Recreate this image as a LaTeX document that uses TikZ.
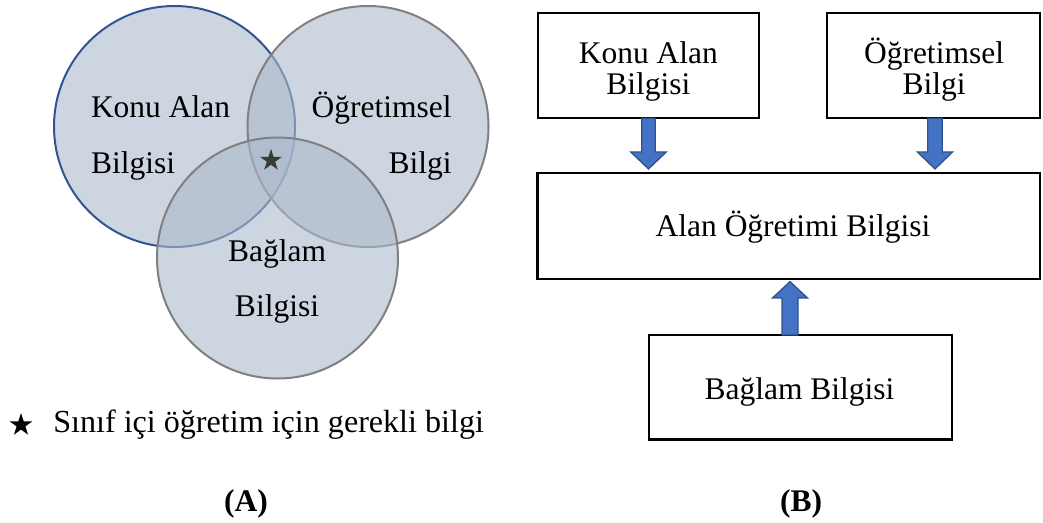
\documentclass[tikz,border=0pt]{standalone}
\usepackage{fontspec}
\setmainfont{Liberation Serif}
\usetikzlibrary{calc,shapes.geometric}
\definecolor{vennfill}{RGB}{172,185,203}
\definecolor{venndark}{RGB}{47,85,151}
\definecolor{venngray}{RGB}{128,128,128}
\definecolor{arrfill}{RGB}{68,114,196}
\definecolor{arrline}{RGB}{47,82,143}
\definecolor{stargray}{RGB}{58,58,58}

\begin{document}
\begin{tikzpicture}[x=1pt,y=-1pt,
  every node/.style={font=\fontsize{31.5}{36}\selectfont, inner sep=0pt, outer sep=0pt},
  venn/.style={circle, minimum size=241pt, fill=vennfill, fill opacity=0.6, line width=2pt},
  box/.style={draw=black, line width=2.3pt, fill=white},
  blockarr/.style={fill=arrfill, draw=arrline, line width=1.3pt, line join=miter},
  starmark/.style={star, star points=5, star point ratio=2.618, minimum size=#1, inner sep=0pt, draw=none}
]
\useasboundingbox (0,0) rectangle (1043,522);

% ---------- (A) Venn diagram ----------
\node[venn, draw=venndark] (ckonu) at (174.5,126.5) {};
\node[venn, draw=venngray] (cogr)  at (368,126.5) {};
\node[venn, draw=venngray] (cbag)  at (277.5,258) {};

\node[anchor=base west] (tkonu1) at (91,117.5) {Konu Alan};
\node[anchor=base west] (tkonu2) at (91,173.3) {Bilgisi};
\node[anchor=base east] (togr1) at (451.7,117.5) {Öğretimsel};
\node[anchor=base east] (togr2) at (451.7,173.3) {Bilgi};
\node[anchor=base] (tbag1) at (277,261.7) {Bağlam};
\node[anchor=base] (tbag2) at (277,316.7) {Bilgisi};

\node[starmark=23pt, fill=stargray] (core) at (271,160.4) {};

% legend
\node[starmark=24pt, fill=black] (legstar) at (21,425) {};
\node[anchor=base west, font=\fontsize{32.1}{36}\selectfont] (legtext) at (53.3,432) {Sınıf içi öğretim için gerekli bilgi};

\node[anchor=base, font=\fontsize{31.5}{36}\selectfont\bfseries] (capA) at (246,511) {(A)};

% ---------- (B) Block diagram ----------
\node[box, minimum width=221pt, minimum height=105pt] (konu) at (648.5,65.8) {};
\node[box, minimum width=213.3pt, minimum height=105pt] (ogr) at (933.4,65.8) {};
\node[box, minimum width=502.5pt, minimum height=106.3pt] (alan) at (788.8,225.8) {};
\node[box, minimum width=302.7pt, minimum height=104.3pt] (baglam) at (800.3,387.2) {};

\node[anchor=base] (bk1) at (648.3,63.3) {Konu Alan};
\node[anchor=base] (bk2) at (648.3,94) {Bilgisi};
\node[anchor=base] (bo1) at (934,63.3) {Öğretimsel};
\node[anchor=base] (bo2) at (934,94) {Bilgi};
\node[anchor=base] (ba) at (793,236.7) {Alan Öğretimi Bilgisi};
\node[anchor=base] (bb) at (799.5,399.3) {Bağlam Bilgisi};

% block arrows
\draw[blockarr] let \p1=(konu.south), \p2=(alan.north) in
  (\x1-6.8pt,\y1) -- (\x1-6.8pt,\y2+20.7pt) -- (\x1-17.8pt,\y2+20.7pt) -- (\x1,\y2+3.7pt)
  -- (\x1+17.8pt,\y2+20.7pt) -- (\x1+6.8pt,\y2+20.7pt) -- (\x1+6.8pt,\y1) -- cycle;
\draw[blockarr] let \p1=($(ogr.south)+(1.6,0)$), \p2=(alan.north) in
  (\x1-7.2pt,\y1) -- (\x1-7.2pt,\y2+20.7pt) -- (\x1-17.6pt,\y2+20.7pt) -- (\x1,\y2+3.7pt)
  -- (\x1+17.6pt,\y2+20.7pt) -- (\x1+7.2pt,\y2+20.7pt) -- (\x1+7.2pt,\y1) -- cycle;
\draw[blockarr] let \p1=($(baglam.north)+(-10.3,0)$), \p2=(alan.south) in
  (\x1-8pt,\y1) -- (\x1-8pt,\y2-19pt) -- (\x1-17.5pt,\y2-19pt) -- (\x1,\y2-2.7pt)
  -- (\x1+17.5pt,\y2-19pt) -- (\x1+8pt,\y2-19pt) -- (\x1+8pt,\y1) -- cycle;

\node[anchor=base, font=\fontsize{31.5}{36}\selectfont\bfseries] (capB) at (801,511) {(B)};
\end{tikzpicture}
\end{document}
